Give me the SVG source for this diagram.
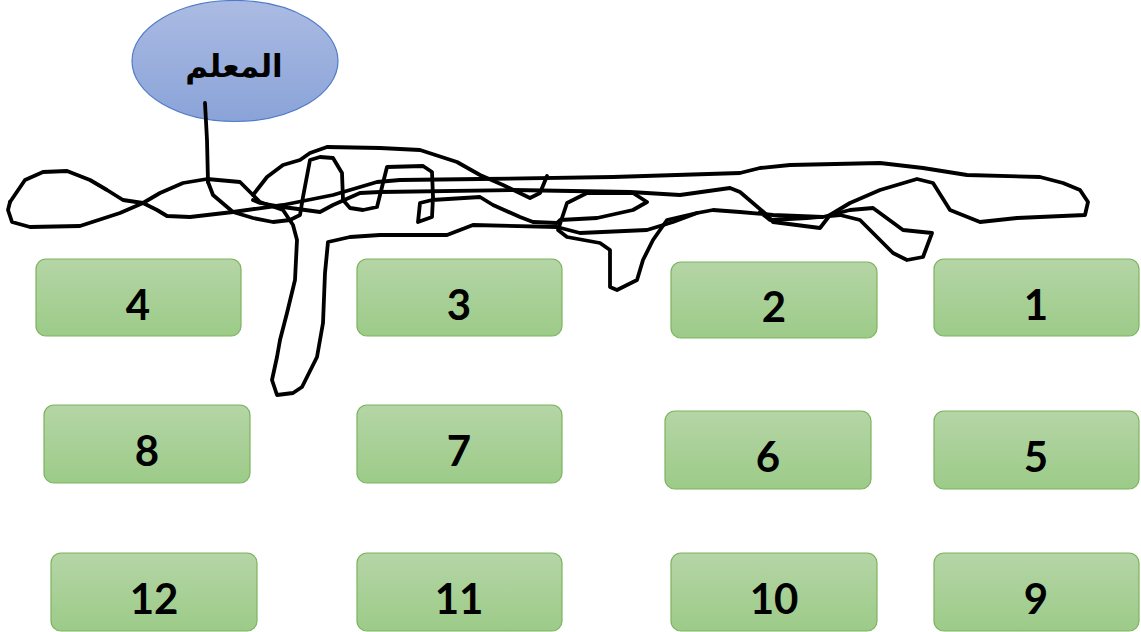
<svg xmlns="http://www.w3.org/2000/svg" width="1141" height="632" viewBox="0 0 1141 632">
<defs>
<linearGradient id="gG" x1="0" y1="0" x2="0" y2="1"><stop offset="0" stop-color="#b5d5a6"/><stop offset="1" stop-color="#9ccb88"/></linearGradient>
<linearGradient id="gB" x1="0" y1="0" x2="0" y2="1"><stop offset="0" stop-color="#abbbe3"/><stop offset="1" stop-color="#8aa3d8"/></linearGradient>
<style>
.box{fill:url(#gG);stroke:#7db35e;stroke-width:1.2}
.num{font-family:Lato,"Liberation Sans",sans-serif;font-weight:700;font-size:42px;fill:#000;text-anchor:middle}
.ink{fill:none;stroke:#000;stroke-width:3.8;stroke-linejoin:round;stroke-linecap:round}
</style>
</defs>
<g id="teacher">
<ellipse cx="235" cy="61" rx="103" ry="60.5" fill="url(#gB)" stroke="#4f7bc8" stroke-width="1.2"/>
<text x="234" y="77" font-family="'DejaVu Sans',sans-serif" font-weight="700" font-size="31" text-anchor="middle" fill="#000">المعلم</text>
</g>
<g id="connectors">
<path class="ink" d="M205,103 L207,140 L208,182"/>
<path class="ink" d="M10,202 L25,180 L43,172 L67,171 L90,180 L107,190 L123,200 L143,203 L157,210 L167,216 L190,217 L233,212 L283,205 L333,195 L377,182 L400,180 L480,179 L613,177 L740,173 L760,168 L790,165 L880,163 L923,168 L967,175 L1040,177 L1063,183 L1080,190 L1088,202 L1085,215 L1017,218 L980,222 L950,210 L933,183 L917,179 L880,190 L850,203 L830,215 L820,228 L773,222 L767,215 L740,192 L730,188 L680,195 L630,192 L513,190 L380,192 L360,193 L333,205 L320,212 L283,207 L260,203 L253,200"/>
<path class="ink" d="M10,202 L8,210 L12,222 L30,227 L80,226 L120,213 L143,203 L160,193 L183,183 L207,179 L240,182 L253,195 L260,202 L283,210 L293,225 L297,240 L295,280 L287,313 L280,340 L277,357 L272,380 L277,395 L293,393 L302,387 L317,357 L323,323 L325,273 L328,242 L350,237 L380,235 L447,235 L473,225 L557,227 L580,233 L647,230 L673,222 L697,213 L713,210 L740,212 L773,215 L823,217 L850,210 L873,208 L903,230 L932,233 L923,257 L907,260 L893,253 L877,237 L860,220 L840,215 L807,218 L770,220 L760,212"/>
<path class="ink" d="M208,182 L213,195 L233,212 L253,218 L273,222 L290,220 L300,215 L303,197 L310,160 L320,157 L333,158 L342,173 L343,200 L350,208 L363,210 L377,207 L383,183 L387,167 L423,166 L432,172 L433,197 L432,217 L418,222 L420,203 L432,200 L480,197 L493,205 L520,217 L533,222 L557,223 L560,220 L597,218 L633,210 L647,202 L633,193 L587,193 L567,203 L558,230 L567,237 L600,243 L610,250 L610,287 L617,290 L637,280 L643,260 L653,240 L667,220 L697,213"/>
<path class="ink" d="M253,195 L267,177 L283,165 L300,160 L310,153 L327,147 L380,148 L420,150 L457,162 L480,175 L503,185 L530,198 L540,193 L547,176"/>
</g>
<g id="n4"><rect class="box" x="36" y="259" width="205" height="77" rx="10"/><text class="num" x="138" y="320">4</text></g>
<g id="n3"><rect class="box" x="357" y="259" width="205" height="77" rx="10"/><text class="num" x="459" y="320">3</text></g>
<g id="n2"><rect class="box" x="671" y="262" width="206" height="76" rx="10"/><text class="num" x="774" y="322">2</text></g>
<g id="n1"><rect class="box" x="934" y="259" width="205" height="77" rx="10"/><text class="num" x="1036" y="320">1</text></g>
<g id="n8"><rect class="box" x="44" y="405" width="206" height="78" rx="10"/><text class="num" x="147" y="466">8</text></g>
<g id="n7"><rect class="box" x="357" y="405" width="205" height="78" rx="10"/><text class="num" x="459" y="466">7</text></g>
<g id="n6"><rect class="box" x="665" y="411" width="206" height="78" rx="10"/><text class="num" x="768" y="472">6</text></g>
<g id="n5"><rect class="box" x="934" y="411" width="205" height="78" rx="10"/><text class="num" x="1036" y="472">5</text></g>
<g id="n12"><rect class="box" x="51" y="553" width="206" height="78" rx="10"/><text class="num" x="154" y="614">12</text></g>
<g id="n11"><rect class="box" x="357" y="553" width="205" height="78" rx="10"/><text class="num" x="459" y="614">11</text></g>
<g id="n10"><rect class="box" x="671" y="553" width="206" height="78" rx="10"/><text class="num" x="774" y="614">10</text></g>
<g id="n9"><rect class="box" x="934" y="553" width="205" height="78" rx="10"/><text class="num" x="1036" y="614">9</text></g>
</svg>
